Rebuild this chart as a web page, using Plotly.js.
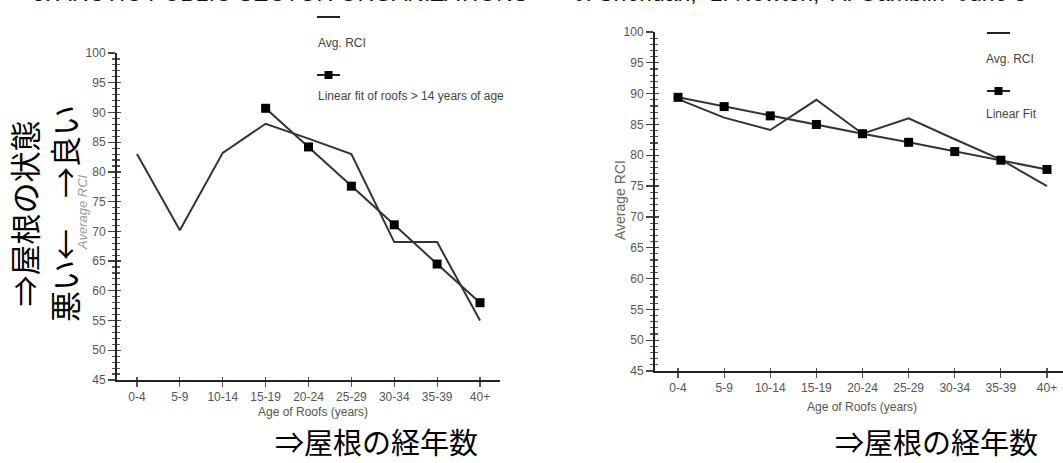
<!DOCTYPE html>
<html><head><meta charset="utf-8">
<script src="https://cdn.plot.ly/plotly-3.0.1.min.js"></script>
<style>html,body{margin:0;padding:0;background:#fff}#c{width:1063px;height:463px}</style>
</head><body><div id="c"></div>
<script>
const categories = ['0-4','5-9','10-14','15-19','20-24','25-29','30-34','35-39','40+'];
// Left chart
const leftAvg = [83.0, 70.2, 83.2, 88.1, 85.6, 83.0, 68.2, 68.2, 55.0];
const leftFitCats = ['15-19','20-24','25-29','30-34','35-39','40+'];
const leftFit = [90.7, 84.2, 77.6, 71.1, 64.5, 58.0];
// Right chart
const rightAvg = [89.1, 86.1, 84.1, 89.0, 83.5, 86.0, 82.6, 79.3, 75.0];
const rightFit = [89.4, 87.9, 86.4, 85.0, 83.5, 82.1, 80.6, 79.2, 77.7];
const yTicks = [45,50,55,60,65,70,75,80,85,90,95,100];

const W = 1063, H = 463;
const px = v => v / W, py = v => 1 - v / H;
const F = '"Liberation Sans", Arial, sans-serif';
const JP = '"Noto Sans CJK JP", "Noto Sans", sans-serif';
const lineCol = '#333';

const traces = [
  {x: categories, y: leftAvg, xaxis: 'x', yaxis: 'y', mode: 'lines', line: {color: lineCol, width: 2}},
  {x: leftFitCats, y: leftFit, xaxis: 'x', yaxis: 'y', mode: 'lines+markers', line: {color: lineCol, width: 2}, marker: {symbol: 'square', size: 9, color: '#000'}},
  {x: categories, y: rightAvg, xaxis: 'x2', yaxis: 'y2', mode: 'lines', line: {color: lineCol, width: 2}},
  {x: categories, y: rightFit, xaxis: 'x2', yaxis: 'y2', mode: 'lines+markers', line: {color: lineCol, width: 2}, marker: {symbol: 'square', size: 9, color: '#000'}},
  // overlay axes for the inner half of crossing ticks
  {x: [], y: [], xaxis: 'x3', yaxis: 'y3', mode: 'lines'},
  {x: [], y: [], xaxis: 'x4', yaxis: 'y4', mode: 'lines'}
];

function yax(domain, anchor, inner) {
  return {
    domain: domain, range: [45, 100], anchor: anchor, tickvals: yTicks,
    showgrid: false, zeroline: false, showline: !inner, linecolor: '#222', linewidth: 2,
    ticks: inner ? 'inside' : 'outside', ticklen: inner ? 4 : 7, tickwidth: 1.3, tickcolor: '#444',
    showticklabels: !inner, tickfont: {family: F, size: 12, color: '#555'},
    minor: {dtick: 1, tick0: 45, ticks: inner ? 'inside' : 'outside', ticklen: 3, tickwidth: 1.1, tickcolor: '#555'},
    fixedrange: true
  };
}
function xax(domain, range, anchor, inner) {
  return {
    domain: domain, range: range, anchor: anchor, type: 'category',
    categoryarray: categories, categoryorder: 'array',
    showgrid: false, zeroline: false, showline: !inner, linecolor: '#222', linewidth: 2,
    ticks: inner ? 'inside' : 'outside', ticklen: inner ? 3 : 5, tickwidth: 1.1, tickcolor: '#555',
    showticklabels: !inner, tickfont: {family: F, size: 12, color: '#555'}, fixedrange: true
  };
}

const lxd = [px(117), px(500)], lyd = [py(380), py(53)];
const rxd = [px(655), 1], ryd = [py(371), py(32)];
const lxr = [-0.466, 8.466], rxr = [-0.499, 8.347];

const layout = {
  width: W, height: H, margin: {l: 0, r: 0, t: 0, b: 0},
  paper_bgcolor: '#fff', plot_bgcolor: 'rgba(0,0,0,0)', showlegend: false,
  xaxis: xax(lxd, lxr, 'y', false),
  yaxis: yax(lyd, 'x', false),
  xaxis2: xax(rxd, rxr, 'y2', false),
  yaxis2: yax(ryd, 'x2', false),
  xaxis3: Object.assign(xax(lxd, lxr, 'y3', true), {overlaying: 'x'}),
  yaxis3: Object.assign(yax(lyd, 'x3', true), {overlaying: 'y'}),
  xaxis4: Object.assign(xax(rxd, rxr, 'y4', true), {overlaying: 'x2'}),
  yaxis4: Object.assign(yax(ryd, 'x4', true), {overlaying: 'y2'}),
  shapes: [
    {type: 'line', xref: 'paper', yref: 'paper', x0: px(317), x1: px(340), y0: py(17), y1: py(17), line: {color: '#222', width: 2}},
    {type: 'line', xref: 'paper', yref: 'paper', x0: px(317), x1: px(340), y0: py(75), y1: py(75), line: {color: '#222', width: 2}},
    {type: 'rect', xref: 'paper', yref: 'paper', x0: px(324.5), x1: px(332.5), y0: py(79), y1: py(71), fillcolor: '#000', line: {width: 0}},
    {type: 'line', xref: 'paper', yref: 'paper', x0: px(987), x1: px(1010), y0: py(33), y1: py(33), line: {color: '#222', width: 2}},
    {type: 'line', xref: 'paper', yref: 'paper', x0: px(987), x1: px(1010), y0: py(91), y1: py(91), line: {color: '#222', width: 2}},
    {type: 'rect', xref: 'paper', yref: 'paper', x0: px(994.5), x1: px(1002.5), y0: py(95), y1: py(87), fillcolor: '#000', line: {width: 0}}
  ],
  annotations: [
    {xref: 'paper', yref: 'paper', x: px(316), y: py(43), xanchor: 'left', yanchor: 'middle', showarrow: false, text: 'Avg. RCI', font: {family: F, size: 12, color: '#444'}},
    {xref: 'paper', yref: 'paper', x: px(316), y: py(96), xanchor: 'left', yanchor: 'middle', showarrow: false, text: 'Linear fit of roofs &gt; 14 years of age', font: {family: F, size: 12, color: '#444'}},
    {xref: 'paper', yref: 'paper', x: px(984), y: py(59), xanchor: 'left', yanchor: 'middle', showarrow: false, text: 'Avg. RCI', font: {family: F, size: 12, color: '#444'}},
    {xref: 'paper', yref: 'paper', x: px(984), y: py(114), xanchor: 'left', yanchor: 'middle', showarrow: false, text: 'Linear Fit', font: {family: F, size: 12, color: '#444'}},
    {xref: 'paper', yref: 'paper', x: px(313), y: py(412), xanchor: 'center', yanchor: 'middle', showarrow: false, text: 'Age of Roofs (years)', font: {family: F, size: 12, color: '#555'}},
    {xref: 'paper', yref: 'paper', x: px(862), y: py(407), xanchor: 'center', yanchor: 'middle', showarrow: false, text: 'Age of Roofs (years)', font: {family: F, size: 12, color: '#555'}},
    {xref: 'paper', yref: 'paper', x: px(82), y: py(212), xanchor: 'center', yanchor: 'middle', textangle: -90, showarrow: false, text: '<i>Average RCI</i>', font: {family: F, size: 13, color: '#999'}},
    {xref: 'paper', yref: 'paper', x: px(620), y: py(200), xanchor: 'center', yanchor: 'middle', textangle: -90, showarrow: false, text: 'Average RCI', font: {family: F, size: 14, color: '#666'}},
    {xref: 'paper', yref: 'paper', x: px(43), y: py(214), xanchor: 'center', yanchor: 'middle', textangle: -90, showarrow: false, text: '⇒屋根の状態<br>悪い←　→良い', font: {family: JP, size: 31, color: '#000'}},
    {xref: 'paper', yref: 'paper', x: px(376), y: py(441), xanchor: 'center', yanchor: 'middle', showarrow: false, text: '⇒屋根の経年数', font: {family: JP, size: 29, color: '#000'}},
    {xref: 'paper', yref: 'paper', x: px(936), y: py(441), xanchor: 'center', yanchor: 'middle', showarrow: false, text: '⇒屋根の経年数', font: {family: JP, size: 29, color: '#000'}},
    {xref: 'paper', yref: 'paper', x: px(30), y: 1, xanchor: 'left', yanchor: 'bottom', yshift: -8, showarrow: false, text: '3: ARCTIC PUBLIC SECTOR ORGANIZATIONS', font: {family: F, size: 23, color: '#111'}},
    {xref: 'paper', yref: 'paper', x: px(572), y: 1, xanchor: 'left', yanchor: 'bottom', yshift: -8, showarrow: false, text: 'J. Sheridan,  L. Newton,  A. Gamblin  June 3', font: {family: F, size: 23, color: '#111'}}
  ]
};

Plotly.newPlot('c', traces, layout, {staticPlot: true, displayModeBar: false});
</script>
</body></html>
